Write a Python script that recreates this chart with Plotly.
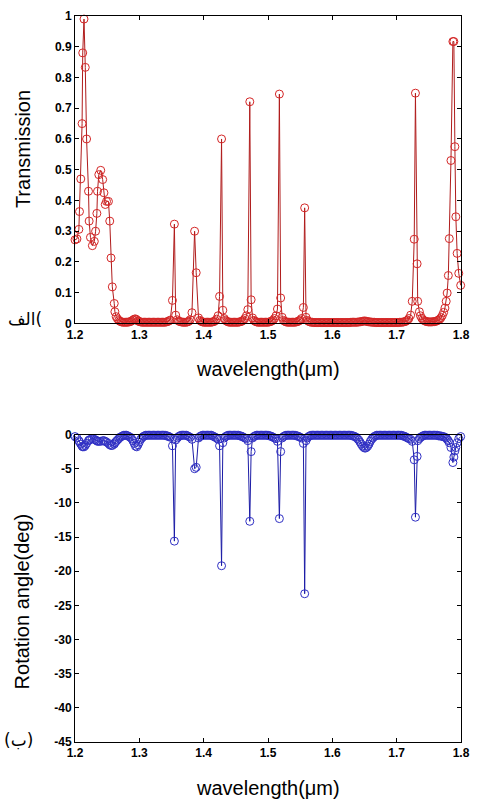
import plotly.graph_objects as go

# ---------------- data ----------------
wavelength = [
    # 1.20 - 1.265 : broad peaks
    1.200, 1.203, 1.206, 1.207, 1.209, 1.211, 1.212, 1.214, 1.216, 1.218,
    1.221, 1.222, 1.224, 1.227, 1.230, 1.232, 1.234, 1.235, 1.237, 1.240,
    1.243, 1.245, 1.247, 1.249, 1.252, 1.254, 1.256, 1.258, 1.261, 1.262,
    1.264,
    # 1.266 - 1.348
    1.266, 1.268, 1.270, 1.272, 1.274, 1.276, 1.278, 1.280, 1.282, 1.284,
    1.286, 1.288, 1.290, 1.292, 1.294, 1.296, 1.298, 1.300, 1.302, 1.304,
    1.306, 1.308, 1.310, 1.312, 1.314, 1.316, 1.318, 1.320, 1.322, 1.324,
    1.326, 1.328, 1.330, 1.332, 1.334, 1.336, 1.338, 1.340,
    1.342, 1.344, 1.346, 1.348,
    # resonance 1.354
    1.3515, 1.3545, 1.3565, 1.359,
    1.361, 1.363, 1.365, 1.367, 1.369, 1.371, 1.373, 1.375, 1.377, 1.379,
    # resonance 1.386
    1.3818, 1.3859, 1.3884, 1.392,
    1.394, 1.396, 1.398, 1.400, 1.402, 1.404, 1.406, 1.408, 1.410, 1.412,
    1.414, 1.416, 1.418, 1.420,
    # resonance 1.428
    1.4225, 1.4247, 1.4278, 1.4298, 1.432,
    1.434, 1.436, 1.438, 1.440, 1.442, 1.444, 1.446, 1.448, 1.450, 1.452,
    1.454, 1.456, 1.458, 1.460, 1.462, 1.464,
    # resonance 1.472
    1.4665, 1.4686, 1.4717, 1.4738, 1.476,
    1.478, 1.480, 1.482, 1.484, 1.486, 1.488, 1.490, 1.492, 1.494, 1.496,
    1.498, 1.500, 1.502, 1.504, 1.506, 1.508, 1.510,
    # resonance 1.518
    1.5125, 1.5147, 1.5177, 1.5197, 1.522,
    1.524, 1.526, 1.528, 1.530, 1.532, 1.534, 1.536, 1.538, 1.540, 1.542,
    1.544, 1.546, 1.548, 1.550, 1.552,
    # resonance 1.557
    1.555, 1.557, 1.5591, 1.561,
    1.563, 1.565, 1.567, 1.569,
    1.571, 1.573, 1.575, 1.577, 1.579, 1.581, 1.583, 1.585, 1.587, 1.589,
    1.591, 1.593, 1.595, 1.597, 1.599, 1.601, 1.603, 1.605, 1.607, 1.609,
    1.611, 1.613, 1.615, 1.617, 1.619, 1.621, 1.623, 1.625,
    1.627, 1.629, 1.631, 1.633, 1.635,
    # 1.65 feature
    1.637, 1.639, 1.641, 1.643, 1.645, 1.647, 1.649, 1.651, 1.653, 1.655,
    1.657, 1.659, 1.661, 1.663, 1.665, 1.667,
    1.669, 1.671, 1.673, 1.675, 1.677, 1.679, 1.681, 1.683, 1.685, 1.687,
    1.689, 1.691, 1.693, 1.695, 1.697, 1.699, 1.701, 1.703,
    1.705, 1.707, 1.709, 1.711, 1.713, 1.715, 1.717, 1.719,
    # resonance 1.729
    1.7217, 1.7242, 1.7273, 1.7292, 1.7318, 1.7327, 1.7353,
    1.737, 1.739, 1.741, 1.743, 1.745, 1.747, 1.749, 1.751, 1.753, 1.755,
    1.757, 1.759, 1.761, 1.763, 1.765, 1.767, 1.769, 1.771, 1.773, 1.775,
    1.777,
    # resonance 1.788
    1.7785, 1.7803, 1.7818, 1.7844, 1.7874, 1.7889, 1.7905, 1.792, 1.794, 1.7965,
    1.7995,
]

transmission = [
    0.272, 0.275, 0.306, 0.364, 0.470, 0.650, 0.880, 0.990, 0.833, 0.600,
    0.430, 0.333, 0.280, 0.253, 0.267, 0.300, 0.358, 0.430, 0.484, 0.498,
    0.468, 0.425, 0.387, 0.397, 0.397, 0.333, 0.213, 0.119, 0.065, 0.038,
    0.022,
    0.015, 0.010, 0.007, 0.005, 0.004, 0.004, 0.004, 0.004, 0.004, 0.005,
    0.006, 0.008, 0.011, 0.014, 0.015, 0.012, 0.008, 0.006, 0.005, 0.004,
    0.004, 0.004, 0.004, 0.004, 0.004, 0.004, 0.004, 0.004, 0.004, 0.004,
    0.004, 0.004, 0.004, 0.004, 0.004, 0.004, 0.004, 0.004,
    0.005, 0.006, 0.008, 0.011,
    0.075, 0.323, 0.027, 0.012,
    0.008, 0.006, 0.005, 0.004, 0.004, 0.004, 0.004, 0.005, 0.007, 0.012,
    0.035, 0.300, 0.165, 0.018,
    0.010, 0.007, 0.005, 0.004, 0.004, 0.004, 0.004, 0.004, 0.004, 0.004,
    0.005, 0.006, 0.009, 0.014,
    0.025, 0.088, 0.600, 0.043, 0.016,
    0.010, 0.007, 0.005, 0.004, 0.004, 0.004, 0.004, 0.004, 0.004, 0.004,
    0.004, 0.005, 0.006, 0.008, 0.011, 0.016,
    0.025, 0.045, 0.721, 0.077, 0.018,
    0.010, 0.007, 0.005, 0.004, 0.004, 0.004, 0.004, 0.004, 0.004, 0.004,
    0.004, 0.004, 0.005, 0.006, 0.008, 0.011, 0.016,
    0.025, 0.047, 0.746, 0.083, 0.020,
    0.010, 0.007, 0.005, 0.004, 0.004, 0.004, 0.004, 0.004, 0.004, 0.004,
    0.005, 0.006, 0.008, 0.011, 0.016,
    0.052, 0.376, 0.020, 0.010,
    0.007, 0.005, 0.004, 0.004,
    0.003, 0.003, 0.003, 0.003, 0.003, 0.003, 0.003, 0.003, 0.003, 0.003,
    0.003, 0.003, 0.003, 0.003, 0.003, 0.003, 0.003, 0.003, 0.003, 0.003,
    0.003, 0.003, 0.003, 0.003, 0.003, 0.003, 0.003, 0.003,
    0.003, 0.004, 0.004, 0.004, 0.004,
    0.004, 0.004, 0.005, 0.005, 0.006, 0.007, 0.008, 0.008, 0.007, 0.006,
    0.005, 0.005, 0.004, 0.004, 0.004, 0.003,
    0.003, 0.003, 0.003, 0.003, 0.003, 0.003, 0.003, 0.003, 0.003, 0.003,
    0.003, 0.003, 0.003, 0.003, 0.003, 0.003, 0.003, 0.003,
    0.004, 0.004, 0.004, 0.005, 0.006, 0.008, 0.011, 0.016,
    0.027, 0.072, 0.274, 0.749, 0.194, 0.072, 0.038,
    0.025, 0.017, 0.012, 0.009, 0.007, 0.006, 0.005, 0.005, 0.005, 0.005,
    0.006, 0.006, 0.007, 0.009, 0.011, 0.014, 0.019, 0.026, 0.036, 0.050,
    0.072,
    0.099, 0.156, 0.276, 0.530, 0.917, 0.917, 0.575, 0.347, 0.228, 0.163,
    0.124,
]

rotation = [
    -0.3, -0.5, -0.9, -1.1, -1.4, -1.7, -1.8, -1.8, -1.6, -1.3,
    -0.9, -0.8, -0.7, -0.6, -0.7, -0.8, -0.9, -1.0, -1.0, -1.0,
    -0.9, -0.9, -1.0, -1.1, -1.3, -1.5, -1.6, -1.6, -1.4, -1.2,
    -1.0,
    -0.8, -0.6, -0.4, -0.3, -0.2, -0.1, -0.1, -0.1, -0.2, -0.3,
    -0.4, -0.6, -0.9, -1.3, -1.7, -1.8, -1.5, -1.1, -0.7, -0.5,
    -0.3, -0.2, -0.1, -0.1, -0.1, -0.1, -0.1, -0.1, -0.1, -0.1,
    -0.1, -0.1, -0.1, -0.1, -0.1, -0.1, -0.1, -0.1,
    -0.2, -0.2, -0.3, -0.4,
    -1.65, -15.6, -0.8, -0.5,
    -0.3, -0.2, -0.1, -0.1, -0.1, -0.1, -0.1, -0.2, -0.3, -0.4,
    -0.7, -5.0, -4.8, -0.5,
    -0.3, -0.2, -0.1, -0.1, -0.1, -0.1, -0.1, -0.1, -0.1, -0.1,
    -0.2, -0.3, -0.4, -0.5,
    -0.7, -1.65, -19.2, -1.2, -0.5,
    -0.3, -0.2, -0.1, -0.1, -0.1, -0.1, -0.1, -0.1, -0.1, -0.1,
    -0.1, -0.2, -0.2, -0.3, -0.4, -0.5,
    -0.6, -0.9, -12.7, -2.5, -0.5,
    -0.3, -0.2, -0.1, -0.1, -0.1, -0.1, -0.1, -0.1, -0.1, -0.1,
    -0.1, -0.1, -0.2, -0.2, -0.3, -0.4, -0.5,
    -0.6, -1.0, -12.3, -2.5, -0.5,
    -0.3, -0.2, -0.1, -0.1, -0.1, -0.1, -0.1, -0.1, -0.1, -0.1,
    -0.2, -0.2, -0.3, -0.4, -0.5,
    -1.3, -23.3, -0.9, -0.5,
    -0.3, -0.2, -0.1, -0.1,
    -0.1, -0.1, -0.1, -0.1, -0.1, -0.1, -0.1, -0.1, -0.1, -0.1,
    -0.1, -0.1, -0.1, -0.1, -0.1, -0.1, -0.1, -0.1, -0.1, -0.1,
    -0.1, -0.1, -0.1, -0.1, -0.1, -0.1, -0.1, -0.1,
    -0.1, -0.1, -0.2, -0.2, -0.3,
    -0.4, -0.6, -0.8, -1.1, -1.4, -1.7, -1.9, -2.0, -1.9, -1.7,
    -1.4, -1.0, -0.7, -0.5, -0.3, -0.2,
    -0.1, -0.1, -0.1, -0.1, -0.1, -0.1, -0.1, -0.1, -0.1, -0.1,
    -0.1, -0.1, -0.1, -0.1, -0.1, -0.1, -0.1, -0.1,
    -0.1, -0.1, -0.2, -0.2, -0.3, -0.4, -0.5, -0.6,
    -0.7, -1.0, -3.7, -12.1, -3.2, -0.9, -0.6,
    -0.4, -0.3, -0.2, -0.1, -0.1, -0.1, -0.1, -0.1, -0.1, -0.1,
    -0.1, -0.1, -0.1, -0.1, -0.2, -0.2, -0.2, -0.3, -0.3, -0.4,
    -0.5,
    -0.7, -0.9, -1.2, -1.9, -4.1, -3.3, -2.4, -1.9, -1.2, -0.6,
    -0.3,
]

x_ticks = [1.2, 1.3, 1.4, 1.5, 1.6, 1.7, 1.8]
t_ticks = [0, 0.1, 0.2, 0.3, 0.4, 0.5, 0.6, 0.7, 0.8, 0.9, 1]
r_ticks = [0, -5, -10, -15, -20, -25, -30, -35, -40, -45]

assert len(wavelength) == len(transmission) == len(rotation), (
    len(wavelength), len(transmission), len(rotation))

# ---------------- figure ----------------
W, H = 479, 801
ML, MR, MT, MB = 75, 9, 10, 59
PH = H - MT - MB


def py(pix):
    """pixel row -> paper y"""
    return (H - MB - pix) / PH


def px(pix):
    """pixel column -> paper x"""
    return (pix - ML) / (W - ML - MR)


RED_LINE = "#b01c1c"
RED_MK = "#d42626"
BLUE_LINE = "#1c1ca6"
BLUE_MK = "#3030c4"

fig = go.Figure()
fig.add_trace(go.Scatter(
    x=wavelength, y=transmission, mode="lines+markers",
    line=dict(color=RED_LINE, width=1),
    marker=dict(symbol="circle-open", size=8, color=RED_MK, line=dict(width=1, color=RED_MK)),
    cliponaxis=False, xaxis="x", yaxis="y", showlegend=False))
fig.add_trace(go.Scatter(
    x=wavelength, y=rotation, mode="lines+markers",
    line=dict(color=BLUE_LINE, width=1),
    marker=dict(symbol="circle-open", size=8, color=BLUE_MK, line=dict(width=1, color=BLUE_MK)),
    cliponaxis=False, xaxis="x2", yaxis="y2", showlegend=False))

FONT = "Liberation Sans, Arial, DejaVu Sans, sans-serif"
axis_common = dict(showline=True, linecolor="black", linewidth=1, mirror="ticks",
                   ticks="inside", ticklen=4, tickcolor="black", showgrid=False,
                   zeroline=False,
                   tickfont=dict(family=FONT, size=12, color="black", weight="bold"))

top_dom = [py(320), 1.0]
bot_dom = [0.0, py(432)]

fig.update_layout(
    width=W, height=H, margin=dict(l=ML, r=MR, t=MT, b=MB),
    paper_bgcolor="white", plot_bgcolor="white",
    font=dict(family=FONT, color="black"),
    xaxis=dict(domain=[0, 1], anchor="y", range=[1.2, 1.8], tickvals=x_ticks,
               ticktext=[f"{v:.1f}" for v in x_ticks], **axis_common),
    yaxis=dict(domain=top_dom, anchor="x", range=[0, 1], tickvals=t_ticks,
               ticktext=[("%g" % v) for v in t_ticks], **axis_common),
    xaxis2=dict(domain=[0, 1], anchor="y2", range=[1.2, 1.8], tickvals=x_ticks,
                ticktext=[f"{v:.1f}" for v in x_ticks], **axis_common),
    yaxis2=dict(domain=bot_dom, anchor="x2", range=[-45, 0], tickvals=r_ticks,
                ticktext=[("%g" % v) for v in r_ticks], **axis_common),
)

title_font = dict(family=FONT, size=20, color="black")
ann = [
    dict(text="Transmission", x=px(22), y=py(144), textangle=-90),
    dict(text="wavelength(\u03bcm)", x=0.5, y=py(366)),
    dict(text="Rotation angle(deg)", x=px(21), y=py(600), textangle=-90),
    dict(text="wavelength(\u03bcm)", x=0.5, y=py(788)),
]
for a in ann:
    fig.add_annotation(xref="paper", yref="paper", showarrow=False,
                       xanchor="center", yanchor="middle", font=title_font, **a)

arab_font = dict(family="DejaVu Sans, Noto Sans, sans-serif", size=17, color="black")
fig.add_annotation(text="\u0627\u0644\u0641(", x=px(24), y=py(316), xref="paper", yref="paper",
                   showarrow=False, xanchor="center", yanchor="middle", font=arab_font)
fig.add_annotation(text="(\u0628)", x=px(17), y=py(740), xref="paper", yref="paper",
                   showarrow=False, xanchor="center", yanchor="middle", font=arab_font)

fig.write_html("out.html", config={"displayModeBar": False},
               post_script="document.body.style.margin='0';document.body.style.overflow='hidden';")
